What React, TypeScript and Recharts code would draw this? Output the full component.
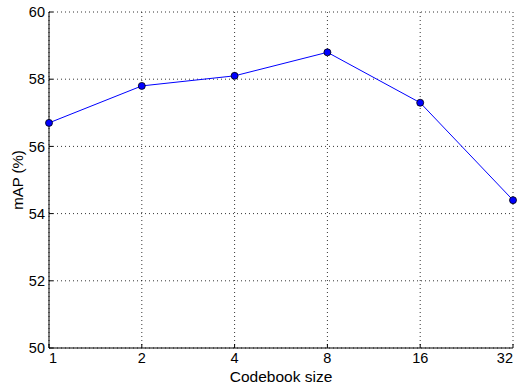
import React from 'react';
import { LineChart, Line, XAxis, YAxis, CartesianGrid } from 'recharts';

const categories = ['1', '2', '4', '8', '16', '32'];
const mapValues = [56.7, 57.8, 58.1, 58.8, 57.3, 54.4];
const yTicks = [50, 52, 54, 56, 58, 60];
const xTicks = [0, 1, 2, 3, 4, 5];

const data = categories.map((c, i) => ({ idx: i, label: c, map: mapValues[i] }));

const FONT = 'Liberation Sans, Arial, sans-serif';
const TL = 4; // tick length
const TM = 4; // tick margin

const LeftTick = (props: any) => {
  const { x, y, payload } = props;
  const ax = x + TM;
  return (
    <g>
      <line x1={ax} x2={ax + TL} y1={y} y2={y} stroke="#000" strokeWidth={1} />
      <text x={x} y={y} dy="0.36em" textAnchor="end" fontSize={14.5} fontFamily={FONT} fill="#000">
        {payload.value}
      </text>
    </g>
  );
};

const RightTick = (props: any) => {
  const { x, y } = props;
  const ax = x - TM;
  return <line x1={ax} x2={ax - TL} y1={y} y2={y} stroke="#000" strokeWidth={1} />;
};

const BottomTick = (props: any) => {
  const { x, y, payload } = props;
  const ay = y - TM;
  const i = payload.value;
  const anchor = i === 0 ? 'start' : i === categories.length - 1 ? 'end' : 'middle';
  return (
    <g>
      <line x1={x} x2={x} y1={ay} y2={ay - TL} stroke="#000" strokeWidth={1} />
      <text x={x} y={y} dy="0.78em" textAnchor={anchor} fontSize={14.5} fontFamily={FONT} fill="#000">
        {categories[i]}
      </text>
    </g>
  );
};

const TopTick = (props: any) => {
  const { x, y } = props;
  const ay = y + TM;
  return <line x1={x} x2={x} y1={ay} y2={ay + TL} stroke="#000" strokeWidth={1} />;
};

const Dot = (props: any) => {
  const { cx, cy } = props;
  if (cx == null || cy == null) return null;
  return <circle cx={cx} cy={cy} r={3.5} fill="#0000ff" stroke="#000" strokeWidth={0.8} />;
};

export default function App() {
  return (
    <div style={{ position: 'absolute', left: 0, top: 0, width: 522, height: 385, background: '#fff' }}>
      <LineChart width={522} height={385} data={data} margin={{ top: 12, right: 9, bottom: 0, left: 0 }}>
        <CartesianGrid
          xAxisId="b"
          yAxisId="l"
          stroke="#000"
          strokeWidth={0.8}
          strokeDasharray="1 3"
          horizontalValues={yTicks}
          verticalValues={xTicks}
        />
        <XAxis
          xAxisId="b"
          dataKey="idx"
          type="number"
          domain={[0, 5]}
          ticks={xTicks}
          interval={0}
          height={37}
          tickSize={0}
          tickMargin={TM}
          tickLine={false}
          axisLine={{ stroke: '#000', strokeWidth: 1 }}
          tick={<BottomTick />}
          label={(p: any) => {
            const vb = p.viewBox || {};
            return (
              <text x={vb.x + vb.width / 2} y={vb.y + 34} textAnchor="middle" fontSize={15.5} fontFamily={FONT} fill="#000">
                Codebook size
              </text>
            );
          }}
        />
        <XAxis
          xAxisId="t"
          orientation="top"
          dataKey="idx"
          type="number"
          domain={[0, 5]}
          ticks={xTicks}
          interval={0}
          height={0}
          tickSize={0}
          tickMargin={TM}
          tickLine={false}
          axisLine={{ stroke: '#000', strokeWidth: 1 }}
          tick={<TopTick />}
        />
        <YAxis
          yAxisId="l"
          type="number"
          domain={[50, 60]}
          ticks={yTicks}
          interval={0}
          width={49}
          tickSize={0}
          tickMargin={TM}
          tickLine={false}
          axisLine={{ stroke: '#000', strokeWidth: 1 }}
          tick={<LeftTick />}
          label={(p: any) => {
            const vb = p.viewBox || {};
            const cy = vb.y + vb.height / 2;
            return (
              <text x={18} y={cy} transform={`rotate(-90 18 ${cy})`} textAnchor="middle" dy="0.36em" fontSize={15} fontFamily={FONT} fill="#000">
                mAP (%)
              </text>
            );
          }}
        />
        <YAxis
          yAxisId="r"
          orientation="right"
          type="number"
          domain={[50, 60]}
          ticks={yTicks}
          interval={0}
          width={0}
          tickSize={0}
          tickMargin={TM}
          tickLine={false}
          axisLine={{ stroke: '#000', strokeWidth: 1 }}
          tick={<RightTick />}
        />
        <Line
          xAxisId="b"
          yAxisId="l"
          dataKey="map"
          type="linear"
          stroke="#0000ff"
          strokeWidth={1}
          dot={<Dot />}
          activeDot={false}
          isAnimationActive={false}
        />
      </LineChart>
    </div>
  );
}
